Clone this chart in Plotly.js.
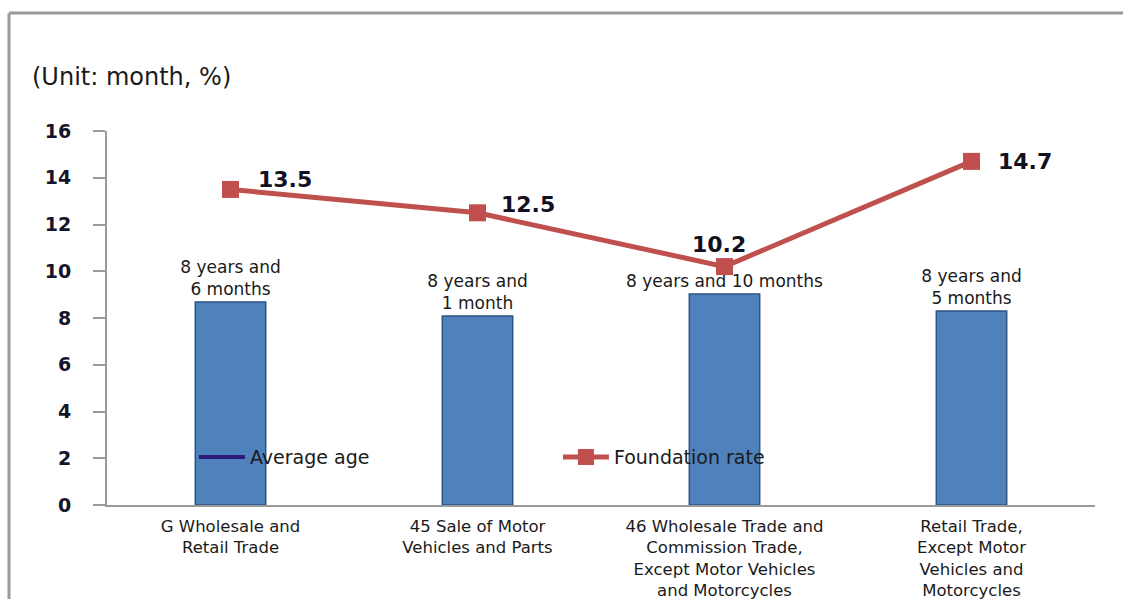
<!DOCTYPE html>
<html>
<head>
<meta charset="utf-8">
<script src="https://cdn.plot.ly/plotly-3.0.1.min.js"></script>
<style>
  html, body { margin: 0; padding: 0; background: #ffffff; }
  #chart { width: 1123px; height: 599px; }
</style>
</head>
<body>
<div id="chart"></div>
<script>
// ---- data ----
const categories = [
  "G Wholesale and<br>Retail Trade",
  "45 Sale of Motor<br>Vehicles and Parts",
  "46 Wholesale Trade and<br>Commission Trade,<br>Except Motor Vehicles<br>and Motorcycles",
  "Retail Trade,<br>Except Motor<br>Vehicles and<br>Motorcycles"
];
const averageAge = [8.68, 8.09, 9.03, 8.30];
const averageAgeLabels = [
  "8 years and<br>6 months",
  "8 years and<br>1 month",
  "8 years and 10 months",
  "8 years and<br>5 months"
];
const foundationRate = [13.5, 12.5, 10.2, 14.7];
const foundationLabels = ["13.5", "12.5", "10.2", "14.7"];
const yTicks = [0, 2, 4, 6, 8, 10, 12, 14, 16];

// label placement (style only)
const labelAnchor = ["left", "left", "center", "left"];
const labelXShift = [25, 21, -6, 24];
const labelYShift = [10, 8, 22, 0];

const textFont = "DejaVu Sans, Verdana, sans-serif";

const traces = [
  {
    type: "bar",
    x: categories,
    y: averageAge,
    width: 0.285,
    text: averageAgeLabels,
    textposition: "outside",
    constraintext: "none",
    textfont: { family: textFont, size: 17, color: "#1a1a1a" },
    cliponaxis: false,
    marker: { color: "#4f81bd", line: { color: "#2c5382", width: 1.5 } },
    showlegend: false,
    hoverinfo: "skip"
  },
  {
    type: "scatter",
    mode: "lines",
    x: [categories[0]],
    y: [null],
    name: "Average age",
    line: { color: "#2b1a7a", width: 4 },
    hoverinfo: "skip"
  },
  {
    type: "scatter",
    mode: "lines+markers",
    x: categories,
    y: foundationRate,
    name: "Foundation rate",
    cliponaxis: false,
    line: { color: "#c0504d", width: 5 },
    marker: { symbol: "square", size: 17, color: "#c0504d" },
    hoverinfo: "skip"
  }
];

const annotations = foundationRate.map((v, i) => ({
  x: categories[i],
  y: v,
  xref: "x",
  yref: "y",
  text: foundationLabels[i],
  showarrow: false,
  xanchor: labelAnchor[i],
  yanchor: "middle",
  xshift: labelXShift[i],
  yshift: labelYShift[i],
  font: { family: textFont, size: 22, color: "#111122", weight: "bold" }
}));

const layout = {
  width: 1123,
  height: 599,
  margin: { l: 107, r: 28, t: 131, b: 94 },
  paper_bgcolor: "#ffffff",
  plot_bgcolor: "#ffffff",
  title: {
    text: "(Unit: month, %)",
    x: 32 / 1123,
    xanchor: "left",
    xref: "container",
    y: 1 - 77 / 599,
    yanchor: "middle",
    yref: "container",
    font: { family: textFont, size: 24, color: "#1a1a1a" }
  },
  xaxis: {
    type: "category",
    range: [-0.5, 3.5],
    showline: true,
    linecolor: "#9a9a9a",
    linewidth: 2,
    ticks: "",
    showgrid: false,
    zeroline: false,
    ticklabelstandoff: 5,
    tickfont: { family: textFont, size: 16.5, color: "#1a1a1a" },
    automargin: false
  },
  yaxis: {
    range: [0, 16],
    tickvals: yTicks,
    ticktext: yTicks.map(String),
    showline: true,
    linecolor: "#9a9a9a",
    linewidth: 2,
    ticks: "outside",
    ticklen: 12,
    tickwidth: 2,
    tickcolor: "#9a9a9a",
    ticklabelstandoff: 18,
    showgrid: false,
    zeroline: false,
    tickfont: { family: textFont, size: 19, color: "#15152a", weight: "bold" },
    automargin: false
  },
  legend: {
    orientation: "h",
    x: 0.088,
    xanchor: "left",
    y: 0.128,
    yanchor: "middle",
    bgcolor: "rgba(0,0,0,0)",
    font: { family: textFont, size: 19, color: "#1a1a1a" },
    entrywidth: 303,
    itemwidth: 46
  },
  annotations: annotations,
  shapes: [
    { type: "line", xref: "paper", yref: "paper", x0: (9 - 107) / 988, x1: (9 - 107) / 988, y0: (505 - 13) / 374, y1: -0.3, line: { color: "#9a9a9a", width: 3 } },
    { type: "line", xref: "paper", yref: "paper", x0: (9 - 107) / 988, x1: 1.1, y0: (505 - 13) / 374, y1: (505 - 13) / 374, line: { color: "#9a9a9a", width: 3 } }
  ]
};

Plotly.newPlot("chart", traces, layout, { displayModeBar: false, staticPlot: true });
</script>
</body>
</html>
